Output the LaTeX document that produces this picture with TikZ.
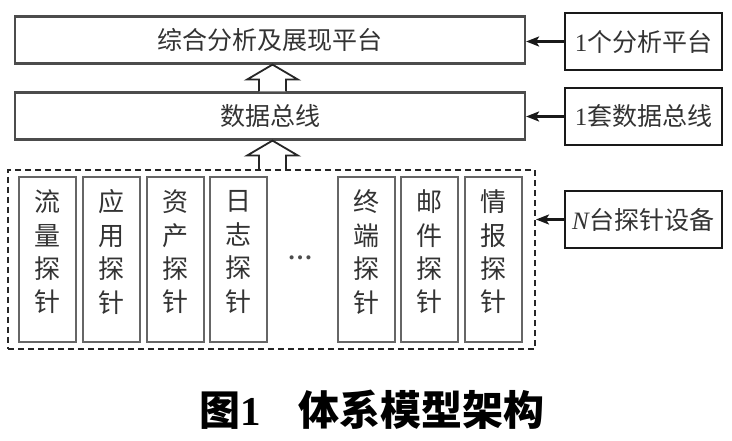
\documentclass[tikz,border=0pt]{standalone}
\usepackage{fontspec}
\setmainfont{Liberation Serif}
\newfontfamily\cjk{Noto Sans CJK SC}
\usetikzlibrary{arrows.meta,calc}
\begin{document}
\begin{tikzpicture}[x=1pt,y=-1pt,
 mainbox/.style={draw=black!70,line width=2.2pt,minimum width=510pt,minimum height=47pt,inner sep=0pt,font=\cjk\fontsize{25}{30}\selectfont,text=black!80},
 sidebox/.style={draw=black!90,line width=2.6pt,minimum width=157pt,minimum height=57pt,inner sep=0pt,font=\fontsize{25}{30}\selectfont,text=black!80},
 probebox/.style={draw=black!60,line width=2.3pt,minimum width=57pt,minimum height=165pt,inner sep=0pt},
 probetext/.style={font=\cjk\fontsize{26}{33.4}\selectfont,align=center,text=black!80,inner sep=0pt},
 feed/.style={line width=2.2pt,draw=black!90,-{Stealth[length=13pt,width=10pt,inset=3pt]}},
 hollow/.style={draw=black!85,line width=1.8pt,fill=white},
 group/.style={draw=black!85,line width=2pt,dash pattern=on 6pt off 4pt,minimum width=527pt,minimum height=179pt,inner sep=0pt},
 dots/.style={font=\bfseries\fontsize{25}{30}\selectfont,text=black!70,inner sep=0pt},
 caption/.style={font=\cjk\bfseries\fontsize{41}{48}\selectfont,inner sep=0pt}
]
\useasboundingbox (0,0) rectangle (732,441);
\fill[white] (0,0) rectangle (732,441);

\node[mainbox] (top) at (270,40) {综合分析及展现平台};
\node[mainbox] (bus) at (270,116) {数据总线};
\node[group] (grp) at (271.5,259.5) {};

\node[sidebox] (s1) at (643.5,41.5) {1{\cjk 个分析平台}};
\node[sidebox] (s2) at (643.5,116.5) {1{\cjk 套数据总线}};
\node[sidebox] (s3) at (643.5,219.5) {\textit{N}{\cjk 台探针设备}};

\draw[feed] (s1.west) -- (s1.west -| top.east);
\draw[feed] (s2.west) -- (s2.west -| bus.east);
\draw[feed] (s3.west) -- (s3.west -| grp.east);

% probes
\foreach \n/\x/\t in {p1/47.5/流\\量\\探\\针, p2/111.5/应\\用\\探\\针, p3/175.5/资\\产\\探\\针, p4/238.5/日\\志\\探\\针, p5/366.5/终\\端\\探\\针, p6/429.5/邮\\件\\探\\针, p7/493.5/情\\报\\探\\针}{
  \node[probebox] (\n) at (\x,259.5) {};
  \node[probetext] (\n t) at ([yshift=7.5pt]\n.center) {\t};
}
\node[dots] (dd) at (300,258) {…};

% hollow arrows
\coordinate (t1) at ($(top.south)+(2.5,0)$);
\coordinate (b1) at ($(bus.north)+(2.5,0)$);
\draw[hollow] ($(b1)+(-13.5,0)$) -- ($(t1)+(-13.5,15)$) -- ($(t1)+(-25.5,15)$) -- (t1) -- ($(t1)+(25.5,15)$) -- ($(t1)+(13.5,15)$) -- ($(b1)+(13.5,0)$);
\coordinate (t2) at ($(bus.south)+(2.5,0)$);
\coordinate (b2) at ($(grp.north -| t2)$);
\draw[hollow] ($(b2)+(-13.5,0)$) -- ($(t2)+(-13.5,15)$) -- ($(t2)+(-25.5,15)$) -- (t2) -- ($(t2)+(25.5,15)$) -- ($(t2)+(13.5,15)$) -- ($(b2)+(13.5,0)$);

\node[caption] (cap) at (372,410) {图{\rmfamily\bfseries 1}\hspace{38pt}体系模型架构};
\end{tikzpicture}
\end{document}
